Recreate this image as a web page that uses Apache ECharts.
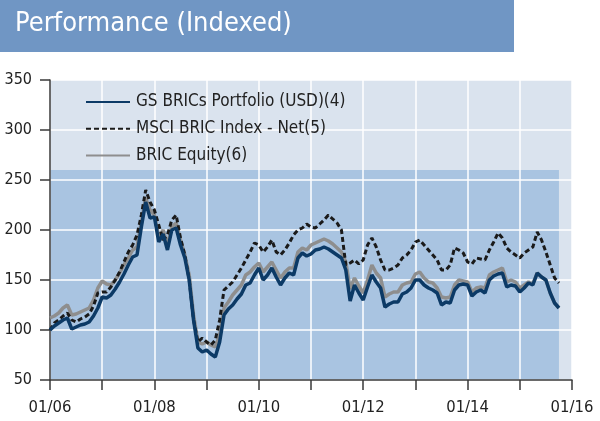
<!DOCTYPE html>
<html>
<head>
<meta charset="utf-8">
<script src="https://cdn.jsdelivr.net/npm/echarts@6/dist/echarts.min.js"></script>
<style>
html,body{margin:0;padding:0;background:#fff;}
#chart{width:600px;height:421px;}
</style>
</head>
<body>
<div id="chart"></div>
<script>
// Monthly categories 2006-01 .. 2016-01
var categories = [];
for (var yr = 2006; yr <= 2016; yr++) {
  for (var m = 1; m <= 12; m++) {
    if (yr === 2016 && m > 1) break;
    categories.push(yr + '-' + (m < 10 ? '0' + m : m));
  }
}
var yTicks = [50, 100, 150, 200, 250, 300, 350];

var gsBrics = [100,104,107,110,112,101,103,105,106,108,114,122,
133,132,135,141,148,156,165,173,175,203,228,212,
213,188,196,180,200,202,185,172,150,110,82,78,
80,76,73,88,115,121,125,131,136,145,147,155,
162,150,155,162,153,145,152,157,155,172,177,174,
176,180,181,183,181,178,175,172,160,129,145,137,
130,143,155,148,142,123,126,128,128,136,138,142,
150,150,145,142,140,137,125,128,127,140,145,146,
145,134,138,140,137,150,154,156,157,143,145,144,
138,142,147,145,157,153,150,137,127,122];

var msciBric = [100,107,110,114,117,110,108,111,113,116,124,137,
138,138,143,150,158,168,178,185,195,215,240,228,
220,205,190,195,210,215,192,175,150,110,88,92,
88,85,90,110,140,144,148,155,162,170,178,187,
185,178,183,190,178,175,180,187,195,200,202,206,
203,202,206,210,215,211,207,200,165,167,170,166,
170,185,192,183,170,160,160,162,165,172,175,180,
188,190,185,180,175,170,160,160,165,182,180,177,
168,166,172,171,170,180,188,197,192,182,178,175,
172,177,180,183,198,190,178,165,152,147];

var bricEquity = [112,114,117,122,125,115,116,118,120,122,130,142,
149,146,145,150,157,165,172,180,183,208,232,220,
215,193,200,185,203,207,190,175,155,115,88,86,
88,85,83,95,122,128,135,140,145,155,158,163,
167,158,163,168,160,152,158,162,162,178,182,180,
185,187,189,191,189,186,182,178,168,141,152,144,
137,150,165,157,152,133,136,138,138,145,147,148,
156,158,152,148,147,142,133,132,133,145,150,149,
148,138,142,143,142,155,158,160,162,148,150,148,
142,145,148,146,157,153,150,137,127,122];

var seriesNames = ['GS BRICs Portfolio (USD)(4)', 'MSCI BRIC Index - Net(5)', 'BRIC Equity(6)'];
var shadeTop = 260;
var shadeEnd = '2015-10';

var FONT = '"Liberation Sans Narrow", "DejaVu Sans Condensed", "Arial Narrow", sans-serif';

var chart = echarts.init(document.getElementById('chart'), null, {renderer: 'canvas'});
var option = {
  animation: false,
  backgroundColor: '#ffffff',
  graphic: [
    {type: 'rect', left: 0, top: 0, shape: {width: 514, height: 52}, style: {fill: '#7096c4'}, z: 0},
    {type: 'text', left: 15, top: 10, style: {text: 'Performance (Indexed)', fill: '#ffffff', font: '27px ' + FONT}, z: 1}
  ],
  grid: {left: 50, right: 28, top: 80, bottom: 41, show: true, backgroundColor: '#dae3ee', borderWidth: 0},
  legend: {
    orient: 'vertical', left: 80, top: 88, padding: 5, itemWidth: 44, itemHeight: 18, itemGap: 8.7,
    data: seriesNames,
    itemStyle: {opacity: 0},
    textStyle: {fontFamily: FONT, fontSize: 17, lineHeight: 18, color: '#222', padding: [0, 0, 0, 1]}
  },
  xAxis: {
    type: 'category', data: categories, boundaryGap: false, z: 1.5,
    axisLine: {lineStyle: {color: '#3a3a3a', width: 1.5}},
    axisTick: {interval: 11, length: 10, lineStyle: {color: '#3a3a3a', width: 1.5}},
    axisLabel: {interval: 23, margin: 19, fontFamily: FONT, fontSize: 16.5, color: '#222',
      formatter: function (v) { return v.slice(5, 7) + '/' + v.slice(2, 4); }},
    splitLine: {show: true, interval: 11, lineStyle: {color: '#ffffff', width: 1.5}}
  },
  yAxis: {
    type: 'value', min: yTicks[0], max: yTicks[yTicks.length - 1], interval: 50, z: 1.5,
    axisLine: {show: true, lineStyle: {color: '#3a3a3a', width: 1.5}},
    axisTick: {show: true, length: 10, lineStyle: {color: '#3a3a3a', width: 1.5}},
    axisLabel: {margin: 18, fontFamily: FONT, fontSize: 16, color: '#222'},
    splitLine: {show: true, lineStyle: {color: '#ffffff', width: 1.5}}
  },
  series: [
    {
      name: 'shade', type: 'line', data: [], z: 1, silent: true,
      markArea: {silent: true, itemStyle: {color: '#a9c4e1'},
        data: [[{xAxis: categories[0], yAxis: yTicks[0]}, {xAxis: shadeEnd, yAxis: shadeTop}]]}
    },
    {name: seriesNames[2], type: 'line', data: bricEquity, z: 2, showSymbol: false, symbol: 'none',
      lineStyle: {color: '#8e8e8e', width: 3.5}, itemStyle: {color: '#8e8e8e'}},
    {name: seriesNames[1], type: 'line', data: msciBric, z: 3, showSymbol: false, symbol: 'none',
      lineStyle: {color: '#1a1a1a', width: 3, type: [5, 3]}, itemStyle: {color: '#1a1a1a'}},
    {name: seriesNames[0], type: 'line', data: gsBrics, z: 4, showSymbol: false, symbol: 'none',
      lineStyle: {color: '#0c3a66', width: 3.5}, itemStyle: {color: '#0c3a66'}}
  ]
};
chart.setOption(option);
</script>
</body>
</html>
